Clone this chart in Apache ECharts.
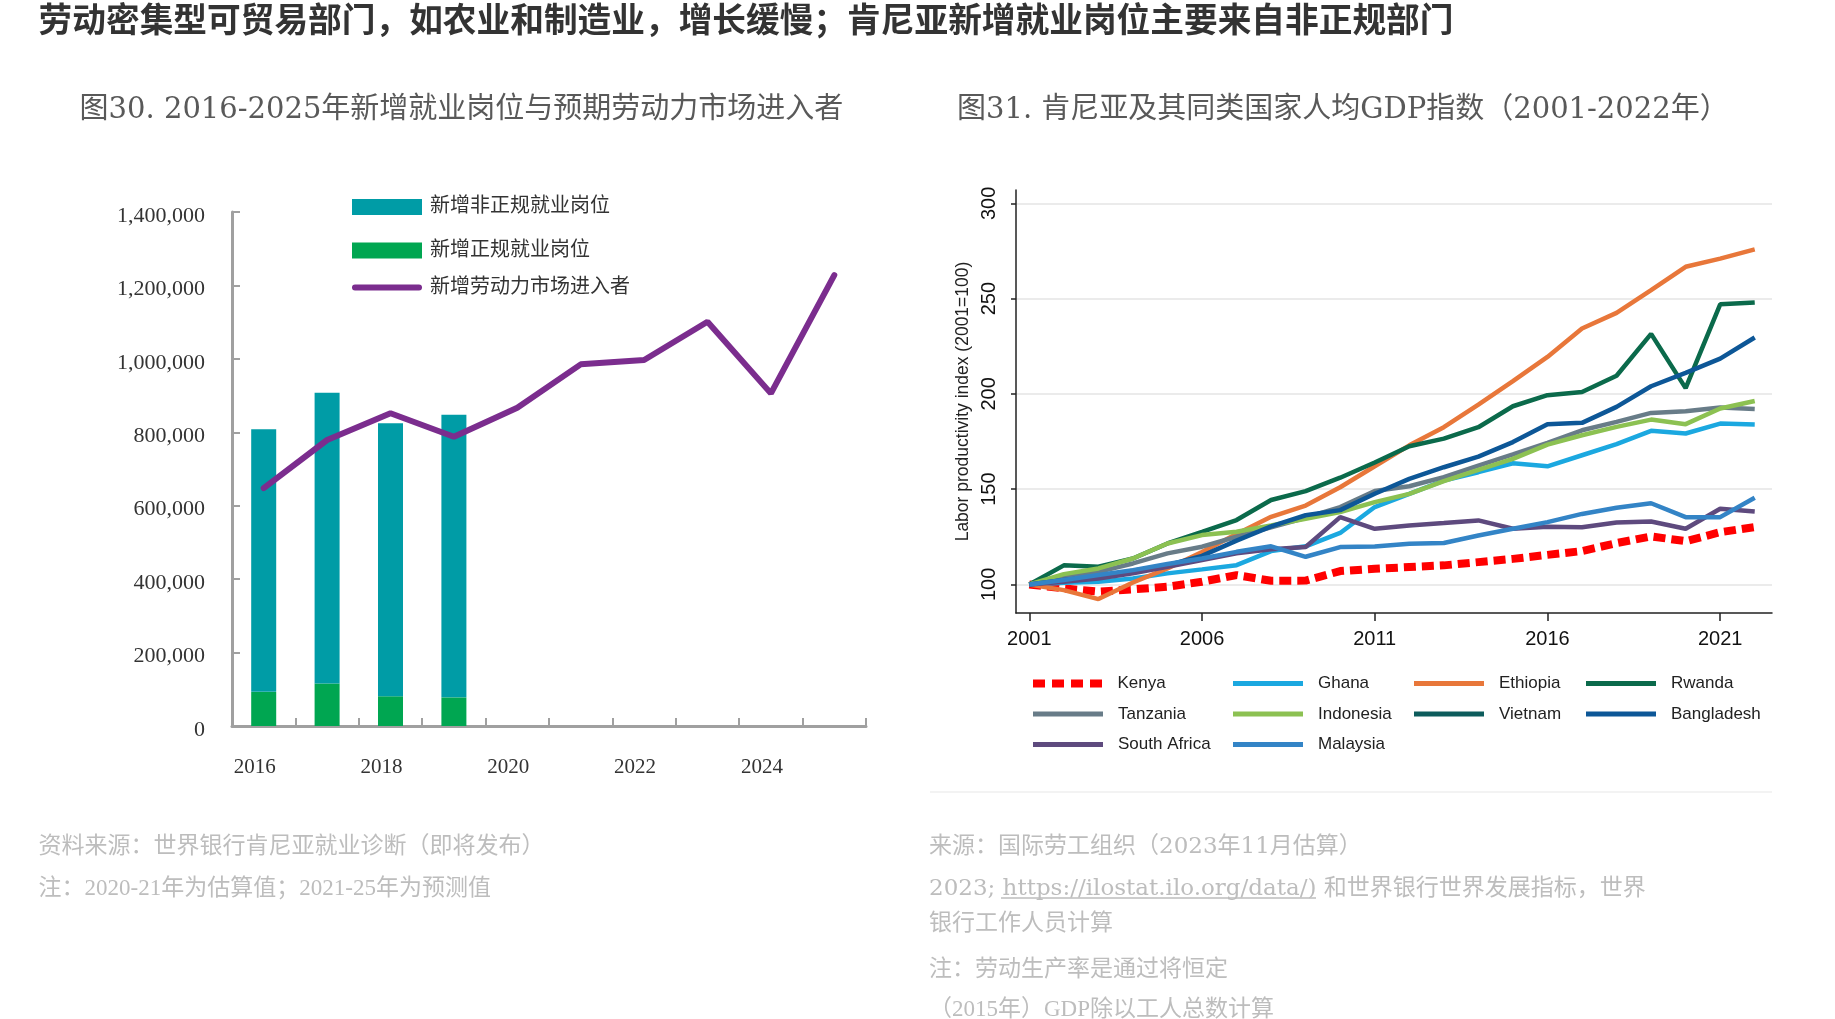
<!DOCTYPE html>
<html><head><meta charset="utf-8">
<script src="https://cdn.jsdelivr.net/npm/echarts@6/dist/echarts.min.js"></script>
<style>html,body{margin:0;padding:0;background:#fff;}#c{width:1835px;height:1019px;}</style>
</head><body><div id="c"></div>
<script>
// ---------- Figure 30 data ----------
const jobYears = ['2016','2017','2018','2019','2020','2021','2022','2023','2024','2025'];
const informalJobs = [715000, 792000, 743500, 770000, null, null, null, null, null, null];
const formalJobs = [93000, 116000, 81000, 78000, null, null, null, null, null, null];
const laborEntrants = [648000, 779000, 852000, 788000, 867000, 985000, 997000, 1101000, 906000, 1228000];
const jobTicks = [0, 200000, 400000, 600000, 800000, 1000000, 1200000, 1400000];

// ---------- Figure 31 data ----------
const gdpYears = [2001,2002,2003,2004,2005,2006,2007,2008,2009,2010,2011,2012,2013,2014,2015,2016,2017,2018,2019,2020,2021,2022];
const kenya = [100, 97.9, 96.2, 97.4, 98.8, 101.4, 104.9, 101.9, 102, 107, 108.2, 109.1, 110, 111.7, 113.4, 115.5, 117.5, 121.7, 125.2, 122.7, 127.4, 130.1];
const ghana = [100, 100.9, 101.4, 103.1, 105.8, 107.9, 110.1, 117.5, 120, 127, 140.6, 147.5, 154.5, 158.9, 163.6, 162, 167.8, 173.6, 180.6, 179.2, 184.4, 183.9];
const ethiopia = [100, 97, 92.3, 101, 108.4, 117, 126.5, 135.5, 141.4, 151, 162, 173, 182.5, 194.4, 206.7, 219.4, 234.3, 242.5, 254.4, 266.7, 271, 275.8];
const rwanda = [100, 110, 109.3, 113.6, 121.5, 127.6, 133.8, 144.3, 149, 156, 164, 172.5, 176.5, 182.5, 193.5, 199.3, 201, 209.5, 231.5, 203, 247, 248];
const tanzania = [100, 104, 106.6, 111, 116.3, 119.8, 125, 130, 135, 140.6, 149, 151.5, 156.3, 162.4, 168.2, 174.3, 180.9, 185.3, 190, 190.9, 192.8, 192];
const indonesia = [100, 105.4, 108.4, 113.6, 121.5, 125.9, 127.6, 131, 134.5, 138, 143.2, 147.5, 154.2, 160.1, 165.9, 173.4, 178.3, 182.7, 186.5, 184.1, 192.3, 196.3];
const vietnam = [];
const bangladesh = [100, 102.3, 104, 107.2, 110.1, 115, 123, 130.5, 136.3, 139, 147.6, 155.4, 161.5, 167.1, 174.7, 184.1, 184.8, 193.2, 204, 211, 218.5, 229.6];
const southAfrica = [100, 101.4, 103.1, 105.8, 109.3, 112.8, 116.3, 118.5, 119.6, 135.3, 129.2, 130.9, 132.2, 133.6, 129.2, 130.3, 130, 132.5, 133, 129.2, 139.7, 138.3];
const malaysia = [100, 102.3, 104.9, 107.5, 110.7, 113.6, 117.1, 120, 114.5, 119.6, 119.9, 121.3, 121.7, 125.7, 129.2, 132.7, 137, 140.2, 142.6, 135.3, 135.3, 145.5];
const gdpXTicks = [2001, 2006, 2011, 2016, 2021];
const gdpYTicks = [100, 150, 200, 250, 300];

const SERIF = "'Liberation Serif','Noto Sans CJK SC',serif";
const WSERIF = "'DejaVu Serif','Noto Sans CJK SC',serif";
const SANS = "'Liberation Sans',Arial,sans-serif";
const CJK = "'Noto Sans CJK SC',sans-serif";

const countries = [
  {name:'Kenya', data:kenya, color:'#FF0000', width:8, type:[12,6]},
  {name:'Ghana', data:ghana, color:'#1BA8E0', width:4.5},
  {name:'Ethiopia', data:ethiopia, color:'#E8773A', width:4.5},
  {name:'Rwanda', data:rwanda, color:'#0B6A4B', width:4.5},
  {name:'Tanzania', data:tanzania, color:'#687C88', width:4.5},
  {name:'Indonesia', data:indonesia, color:'#8CC152', width:4.5},
  {name:'Vietnam', data:vietnam, color:'#0D5C5C', width:4.5},
  {name:'Bangladesh', data:bangladesh, color:'#0D5797', width:4.5},
  {name:'South Africa', data:southAfrica, color:'#5E4A7E', width:4.5},
  {name:'Malaysia', data:malaysia, color:'#3384C6', width:4.5}
];

function txt(x, y, text, font, fill) {
  return {type:'text', x:x, y:y, silent:true, style:{text:text, font:font, fill:fill,
    align:'left', verticalAlign:'middle', textAlign:'left', textVerticalAlign:'middle'}};
}

const noteFont = "23px " + WSERIF;
const noteFontN = "23px " + SERIF;
const noteColor = '#bdbdbd';
const titleFont = "29px " + WSERIF;
const titleColor = '#595959';

const DASH_ICON = 'path://M0,0h12v8h-12zM19,0h12v8h-12zM38,0h12v8h-12zM57,0h12v8h-12z';
const ROUND_LINE_ICON = 'path://M3,0h64a3,3 0 0 1 0,6h-64a3,3 0 0 1 0,-6z';

const rightLegendBase = {orient:'vertical', top:673.5, padding:0, itemWidth:70, itemHeight:5, itemGap:10.5,
  icon:'rect', itemStyle:{borderWidth:0},
  textStyle:{fontFamily:SANS, fontSize:17, color:'#222', lineHeight:20, padding:[0,0,0,10]}};

const option = {
  animation:false,
  backgroundColor:'#fff',
  grid:[
    {left:232, right:969, top:212, bottom:293},
    {left:1016, right:63, top:190, bottom:406}
  ],
  xAxis:[
    {type:'category', gridIndex:0, data:jobYears, boundaryGap:true,
     axisLine:{show:true, lineStyle:{color:'#a0a0a0', width:3}},
     axisTick:{show:true, inside:true, length:8, interval:0, lineStyle:{color:'#a0a0a0', width:2}},
     axisLabel:{interval:1, margin:31, fontFamily:SERIF, fontSize:21, color:'#333', padding:[0,18,0,0]},
     splitLine:{show:false}},
    {type:'value', gridIndex:1, min:2000.615, max:2022.5,
     axisLine:{show:true, lineStyle:{color:'#222', width:1.5}},
     axisTick:{show:true, length:8, customValues:gdpXTicks, lineStyle:{color:'#222', width:1.5}},
     axisLabel:{customValues:gdpXTicks, formatter:function(v){return String(Math.round(v));},
       fontFamily:SANS, fontSize:20, color:'#111', margin:16},
     splitLine:{show:false}}
  ],
  yAxis:[
    {type:'value', gridIndex:0, min:0, max:1400000, interval:200000,
     axisLine:{show:true, lineStyle:{color:'#a0a0a0', width:3}},
     axisTick:{show:true, inside:true, length:8, lineStyle:{color:'#a0a0a0', width:2}},
     axisLabel:{customValues:jobTicks, formatter:function(v){return Number(v).toLocaleString('en-US');},
       fontFamily:SERIF, fontSize:22, color:'#333', margin:27, verticalAlign:'top', lineHeight:8},
     splitLine:{show:false}},
    {type:'value', gridIndex:1, min:85, max:307,
     name:'Labor productivity index (2001=100)', nameLocation:'middle', nameGap:44,
     nameTextStyle:{fontFamily:SANS, fontSize:17.5, color:'#222'},
     axisLine:{show:true, lineStyle:{color:'#222', width:1.5}},
     axisTick:{show:true, length:5, customValues:gdpYTicks, lineStyle:{color:'#222', width:1.5}},
     axisLabel:{customValues:gdpYTicks, rotate:90, fontFamily:SANS, fontSize:20, color:'#111', margin:17},
     splitLine:{show:true, lineStyle:{color:'#ebebeb', width:2}}}
  ],
  legend:[
    {orient:'vertical', left:352, top:197, padding:0, itemWidth:70, itemHeight:16, itemGap:23.6,
     icon:'rect', itemStyle:{borderWidth:0},
     textStyle:{fontFamily:SERIF, fontSize:20, color:'#333', lineHeight:16, padding:[0,0,0,3]},
     data:['新增非正规就业岗位', '新增正规就业岗位']},
    {orient:'vertical', left:352, top:277.6, padding:0, itemWidth:70, itemHeight:6,
     icon:ROUND_LINE_ICON, itemStyle:{borderWidth:0},
     textStyle:{fontFamily:SERIF, fontSize:20, color:'#333', lineHeight:16, padding:[0,0,0,3]},
     data:['新增劳动力市场进入者']},
    Object.assign({}, rightLegendBase, {left:1033, itemHeight:8, icon:DASH_ICON, data:['Kenya']}),
    Object.assign({}, rightLegendBase, {left:1033, top:704, data:['Tanzania','South Africa']}),
    Object.assign({}, rightLegendBase, {left:1233, data:['Ghana','Indonesia','Malaysia']}),
    Object.assign({}, rightLegendBase, {left:1414, data:['Ethiopia','Vietnam']}),
    Object.assign({}, rightLegendBase, {left:1586, data:['Rwanda','Bangladesh']})
  ],
  series:[
    {type:'bar', name:'新增正规就业岗位', xAxisIndex:0, yAxisIndex:0, stack:'jobs', data:formalJobs, barWidth:25,
     itemStyle:{color:'#00A651'}},
    {type:'bar', name:'新增非正规就业岗位', xAxisIndex:0, yAxisIndex:0, stack:'jobs', data:informalJobs, barWidth:25,
     itemStyle:{color:'#009CA6'}},
    {type:'line', name:'新增劳动力市场进入者', xAxisIndex:0, yAxisIndex:0, data:laborEntrants, symbol:'none', z:5,
     lineStyle:{color:'#7B2D8E', width:6, cap:'round'}, itemStyle:{color:'#7B2D8E'}}
  ].concat(countries.map(function(c){
    return {type:'line', name:c.name, xAxisIndex:1, yAxisIndex:1, symbol:'none',
      data:c.data.map(function(v, i){return [gdpYears[i], v];}),
      lineStyle:{color:c.color, width:c.width, type:c.type || 'solid', cap:'butt'},
      itemStyle:{color:c.color}};
  })),
  graphic:[
    txt(38.6, 19, '劳动密集型可贸易部门，如农业和制造业，增长缓慢；肯尼亚新增就业岗位主要来自非正规部门', "bold 33.7px " + CJK, '#333'),
    txt(79.6, 110, '图30. 2016-2025年新增就业岗位与预期劳动力市场进入者', titleFont, titleColor),
    txt(957, 110, '图31. 肯尼亚及其同类国家人均GDP指数（2001-2022年）', titleFont, titleColor),
    txt(38.6, 847.5, '资料来源：世界银行肯尼亚就业诊断（即将发布）', noteFont, noteColor),
    txt(38.6, 888.5, '注：2020-21年为估算值；2021-25年为预测值', noteFontN, noteColor),
    txt(929, 847.5, '来源：国际劳工组织（2023年11月估算）', noteFont, noteColor),
    txt(929, 889.5, '2023; https://ilostat.ilo.org/data/) 和世界银行世界发展指标，世界', noteFont, noteColor),
    txt(929, 924.5, '银行工作人员计算', noteFont, noteColor),
    txt(929, 970.5, '注：劳动生产率是通过将恒定', noteFont, noteColor),
    txt(929, 1010, '（2015年）GDP除以工人总数计算', noteFontN, noteColor),
    {type:'line', silent:true, shape:{x1:1001, y1:898, x2:1316, y2:898}, style:{stroke:'#bdbdbd', lineWidth:1.5}},
    {type:'line', silent:true, shape:{x1:930, y1:792, x2:1772, y2:792}, style:{stroke:'#f3f3f3', lineWidth:2}}
  ]
};

const chart = echarts.init(document.getElementById('c'), null, {renderer:'canvas'});
chart.setOption(option);
</script>
</body></html>
